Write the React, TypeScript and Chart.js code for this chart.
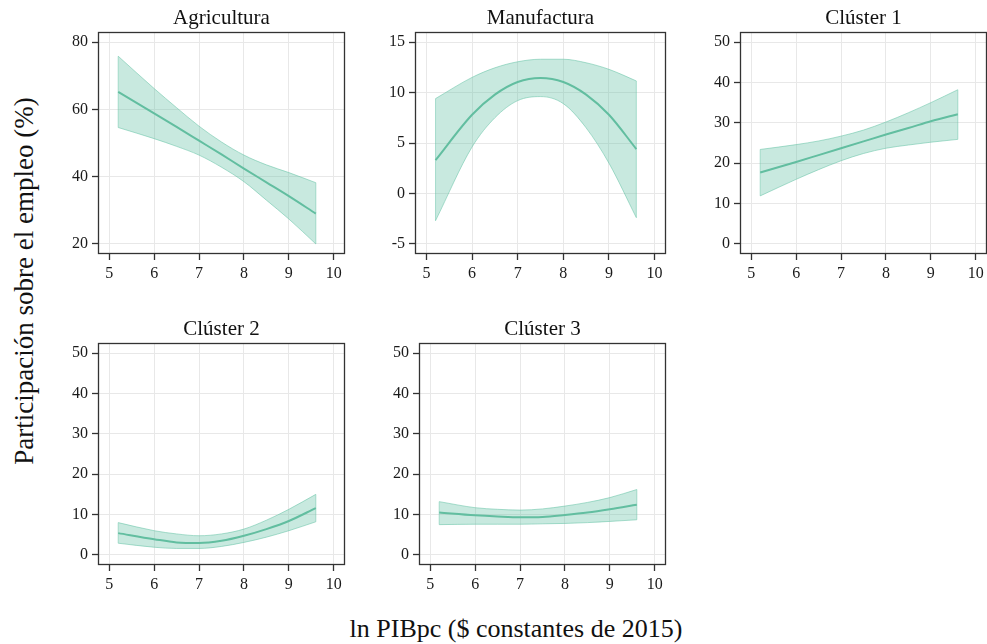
import React, { useEffect, useRef } from 'react';
import { Chart, registerables } from 'chart.js';

Chart.register(...registerables);

// ---------------- data ----------------
const xValues = [5.2, 6, 6.5, 7, 7.5, 8, 8.5, 9, 9.6];
const xTicks = [5, 6, 7, 8, 9, 10];

const agriFit = [65.2, 58.8, 54.8, 50.7, 46.6, 42.4, 38.3, 34.2, 29.0];
const agriUpper = [75.8, 66.2, 60.5, 55.0, 50.3, 46.4, 43.5, 41.2, 38.2];
const agriLower = [54.6, 51.3, 49.0, 46.4, 42.8, 38.5, 33.0, 27.4, 20.0];
const agriTicks = [20, 40, 60, 80];

const manuFit = [3.3, 7.8, 9.8, 11.05, 11.45, 11.05, 9.8, 7.8, 4.4];
const manuUpper = [9.4, 11.5, 12.45, 13.05, 13.3, 13.3, 12.95, 12.3, 11.15];
const manuLower = [-2.7, 4.6, 7.5, 9.2, 9.6, 8.9, 6.5, 3.0, -2.4];
const manuTicks = [-5, 0, 5, 10, 15];

const c1Fit = [17.7, 20.3, 22.0, 23.7, 25.4, 27.1, 28.7, 30.4, 32.1];
const c1Upper = [23.4, 24.6, 25.5, 26.7, 28.2, 30.2, 32.5, 35.0, 38.2];
const c1Lower = [11.9, 16.0, 18.4, 20.6, 22.4, 23.7, 24.5, 25.2, 25.9];

const c2Fit = [5.4, 3.9, 3.1, 2.95, 3.5, 4.75, 6.4, 8.4, 11.6];
const c2Upper = [8.0, 6.0, 5.2, 4.75, 5.2, 6.4, 8.6, 11.3, 15.0];
const c2Lower = [2.9, 1.9, 1.6, 1.6, 2.1, 3.1, 4.4, 6.0, 8.2];

const c3Fit = [10.5, 9.8, 9.5, 9.3, 9.4, 9.9, 10.5, 11.3, 12.4];
const c3Upper = [13.2, 11.7, 11.3, 11.1, 11.4, 12.1, 13.0, 14.2, 16.2];
const c3Lower = [7.5, 7.6, 7.6, 7.6, 7.7, 7.8, 8.0, 8.3, 8.7];

const clusterTicks = [0, 10, 20, 30, 40, 50];

const titles = ['Agricultura', 'Manufactura', 'Clúster 1', 'Clúster 2', 'Clúster 3'];
const yAxisTitle = 'Participación sobre el empleo (%)';
const xAxisTitle = 'ln PIBpc ($ constantes de 2015)';

// ---------------- styling / layout ----------------
const LINE = 'rgb(98,190,160)';
const FILL = 'rgba(102,194,165,0.36)';
const EDGE = 'rgba(102,194,165,0.55)';
const FONT = "'Liberation Serif', 'Times New Roman', serif";

const X_MIN = 4.75;
const X_MAX = 10.25;

const Y_AXIS_W = 50;
const X_AXIS_H = 40;
const PAD_TOP = 20;
const PAD_RIGHT = 12;

type Panel = {
  title: string;
  fit: number[];
  upper: number[];
  lower: number[];
  yMin: number;
  yMax: number;
  yTicks: number[];
  left: number;
  top: number;
  width: number;
  height: number;
};

const panels: Panel[] = [
  { title: titles[0], fit: agriFit, upper: agriUpper, lower: agriLower, yMin: 17, yMax: 83, yTicks: agriTicks, left: 98, top: 32, width: 247, height: 222 },
  { title: titles[1], fit: manuFit, upper: manuUpper, lower: manuLower, yMin: -6, yMax: 16, yTicks: manuTicks, left: 415, top: 32, width: 251, height: 222 },
  { title: titles[2], fit: c1Fit, upper: c1Upper, lower: c1Lower, yMin: -2.5, yMax: 52.5, yTicks: clusterTicks, left: 740, top: 32, width: 247, height: 222 },
  { title: titles[3], fit: c2Fit, upper: c2Upper, lower: c2Lower, yMin: -2.5, yMax: 52.5, yTicks: clusterTicks, left: 98, top: 343, width: 247, height: 222 },
  { title: titles[4], fit: c3Fit, upper: c3Upper, lower: c3Lower, yMin: -2.5, yMax: 52.5, yTicks: clusterTicks, left: 419, top: 343, width: 247, height: 222 },
];

const framePlugin = {
  id: 'frame',
  afterDraw(chart: any) {
    const { ctx, chartArea } = chart;
    const l = Math.round(chartArea.left) + 0.5;
    const t = Math.round(chartArea.top) + 0.5;
    const r = Math.round(chartArea.right) - 0.5;
    const b = Math.round(chartArea.bottom) - 0.5;
    ctx.save();
    ctx.strokeStyle = '#333';
    ctx.lineWidth = 1.3;
    ctx.strokeRect(l, t, r - l, b - t);
    ctx.restore();
  },
};

function toPts(vals: number[]) {
  return vals.map((y, i) => ({ x: xValues[i], y }));
}

function PanelChart({ p }: { p: Panel }) {
  const ref = useRef<HTMLCanvasElement | null>(null);
  const cw = p.width + Y_AXIS_W + PAD_RIGHT;
  const ch = p.height + PAD_TOP + X_AXIS_H;

  useEffect(() => {
    if (!ref.current) return;
    const n = xValues.length - 1;
    const chart = new Chart(ref.current, {
      type: 'line',
      data: {
        datasets: [
          {
            data: toPts(p.fit),
            borderColor: LINE,
            borderWidth: 2,
            pointRadius: 0,
            fill: false,
            cubicInterpolationMode: 'monotone',
          },
          {
            data: toPts(p.upper),
            borderColor: EDGE,
            borderWidth: 1,
            backgroundColor: FILL,
            pointRadius: 0,
            fill: '+1',
            cubicInterpolationMode: 'monotone',
          },
          {
            data: toPts(p.lower),
            borderColor: EDGE,
            borderWidth: 1,
            pointRadius: 0,
            fill: false,
            cubicInterpolationMode: 'monotone',
          },
          {
            data: [
              { x: xValues[0], y: p.lower[0] },
              { x: xValues[0], y: p.upper[0] },
            ],
            borderColor: EDGE,
            borderWidth: 1,
            pointRadius: 0,
            fill: false,
          },
          {
            data: [
              { x: xValues[n], y: p.lower[n] },
              { x: xValues[n], y: p.upper[n] },
            ],
            borderColor: EDGE,
            borderWidth: 1,
            pointRadius: 0,
            fill: false,
          },
        ],
      },
      options: {
        animation: false,
        responsive: false,
        devicePixelRatio: 1,
        layout: { padding: { top: PAD_TOP, right: PAD_RIGHT, left: 0, bottom: 0 } },
        plugins: { legend: { display: false }, tooltip: { enabled: false }, title: { display: false } },
        scales: {
          x: {
            type: 'linear',
            min: X_MIN,
            max: X_MAX,
            afterBuildTicks: (axis: any) => {
              axis.ticks = xTicks.map((v) => ({ value: v }));
            },
            afterFit: (axis: any) => {
              axis.height = X_AXIS_H;
            },
            grid: { color: '#e8e8e8', lineWidth: 1, drawTicks: true, tickLength: 6, tickColor: '#333', tickWidth: 1.3 },
            border: { display: false },
            ticks: { font: { family: FONT, size: 16 }, color: '#1a1a1a', padding: 4, maxRotation: 0, autoSkip: false },
          },
          y: {
            type: 'linear',
            min: p.yMin,
            max: p.yMax,
            afterBuildTicks: (axis: any) => {
              axis.ticks = p.yTicks.map((v) => ({ value: v }));
            },
            afterFit: (axis: any) => {
              axis.width = Y_AXIS_W;
            },
            grid: { color: '#e8e8e8', lineWidth: 1, drawTicks: true, tickLength: 6, tickColor: '#333', tickWidth: 1.3 },
            border: { display: false },
            ticks: { font: { family: FONT, size: 16 }, color: '#1a1a1a', padding: 4, autoSkip: false },
          },
        },
      },
      plugins: [framePlugin],
    } as any);
    return () => chart.destroy();
  }, [p]);

  return (
    <>
      <canvas
        ref={ref}
        width={cw}
        height={ch}
        style={{ position: 'absolute', left: p.left - Y_AXIS_W, top: p.top - PAD_TOP, width: cw, height: ch }}
      />
      <div
        style={{
          position: 'absolute',
          left: p.left,
          width: p.width,
          top: p.top - 25,
          textAlign: 'center',
          fontFamily: FONT,
          fontSize: 21,
          lineHeight: '21px',
          color: '#111',
          whiteSpace: 'nowrap',
        }}
      >
        {p.title}
      </div>
    </>
  );
}

export default function App() {
  return (
    <div
      style={{
        position: 'absolute',
        left: 0,
        top: 0,
        width: 987,
        height: 644,
        overflow: 'hidden',
        background: '#fff',
      }}
    >
      {panels.map((p) => (
        <PanelChart key={p.title} p={p} />
      ))}
      <div
        style={{
          position: 'absolute',
          left: 24,
          top: 281,
          transform: 'translate(-50%, -50%) rotate(-90deg)',
          fontFamily: FONT,
          fontSize: 27,
          lineHeight: '27px',
          color: '#111',
          whiteSpace: 'nowrap',
        }}
      >
        {yAxisTitle}
      </div>
      <div
        style={{
          position: 'absolute',
          left: 516,
          top: 616,
          transform: 'translateX(-50%)',
          fontFamily: FONT,
          fontSize: 26,
          lineHeight: '26px',
          color: '#111',
          whiteSpace: 'nowrap',
        }}
      >
        {xAxisTitle}
      </div>
    </div>
  );
}
